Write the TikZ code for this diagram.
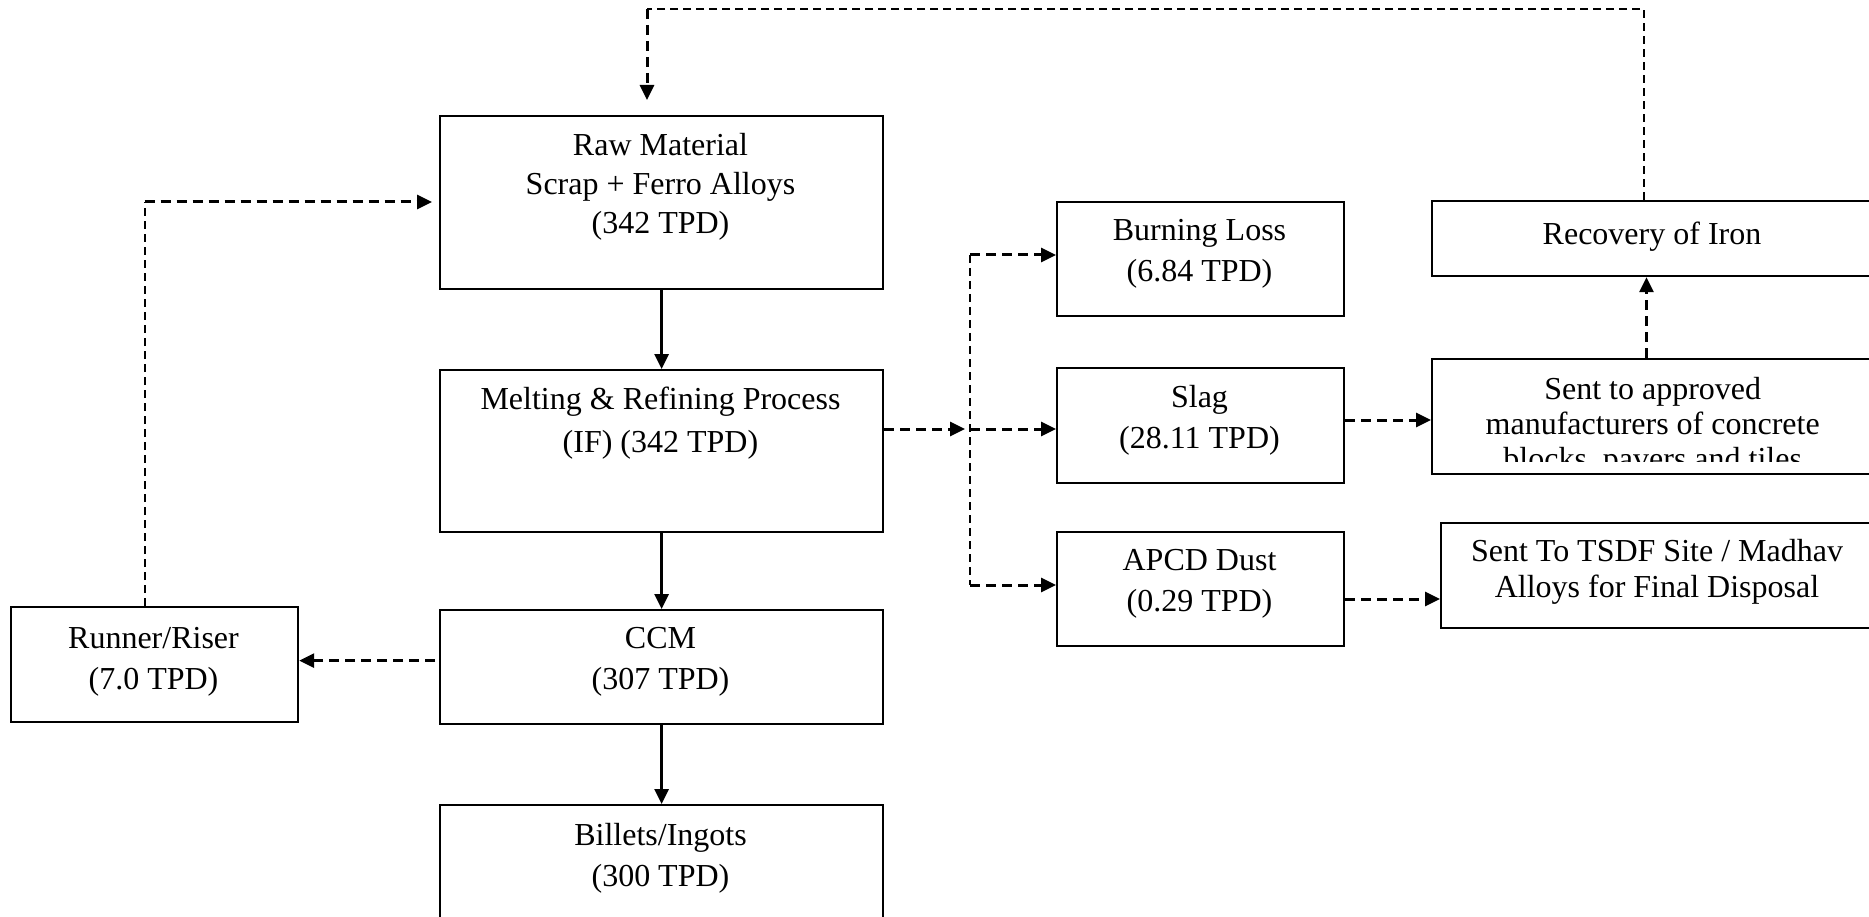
\documentclass[tikz,border=0pt]{standalone}
\usepackage{fontspec}
\setmainfont{Liberation Serif}
\usetikzlibrary{arrows.meta,calc}
\begin{document}
\begin{tikzpicture}[x=1pt,y=-1pt,
 box/.style={draw,line width=2.2pt,inner sep=0pt,anchor=north west},
 txt/.style={align=center,font=\fontsize{32}{41}\selectfont,inner sep=0pt},
 solidarrow/.style={line width=2.8pt,-{Triangle[length=15pt,width=14pt]}},
 dasharrow/.style={line width=3pt,dash pattern=on 10pt off 6pt,-{Triangle[length=15pt,width=14pt]}},
 thindash/.style={line width=1.6pt,dash pattern=on 8pt off 5pt}]
\useasboundingbox (0,0) rectangle (1869,917);
\fill[white] (0,0) rectangle (1869,917);
\clip (0,0) rectangle (1869,917);

% boxes
\node[box,minimum width=443pt,minimum height=173pt] (raw) at (439,115) {};
\node[box,minimum width=443pt,minimum height=162pt] (melt) at (439,369) {};
\node[box,minimum width=443pt,minimum height=114pt] (ccm) at (439,609) {};
\node[box,minimum width=443pt,minimum height=130pt] (bill) at (439,804) {};
\node[box,minimum width=287pt,minimum height=115pt] (run) at (10,606) {};
\node[box,minimum width=287pt,minimum height=114pt] (burn) at (1056,201) {};
\node[box,minimum width=287pt,minimum height=115pt] (slag) at (1056,367) {};
\node[box,minimum width=287pt,minimum height=114pt] (apcd) at (1056,531) {};
\node[box,minimum width=444pt,minimum height=75pt] (recov) at (1431,200) {};
\node[box,minimum width=444pt,minimum height=115pt] (sent) at (1431,358) {};
\node[box,minimum width=434pt,minimum height=105pt] (tsdf) at (1440,522) {};

% texts
\node[txt,font=\fontsize{32}{39}\selectfont] (rawt) at (660.5,187) {Raw Material\\Scrap + Ferro Alloys\\(342 TPD)};
\node[txt,font=\fontsize{32}{43}\selectfont] (meltt) at (660.5,423) {Melting \& Refining Process\\(IF) (342 TPD)};
\node[txt] (ccmt) at (660.5,662) {CCM\\(307 TPD)};
\node[txt] (billt) at (660.5,858) {Billets/Ingots\\(300 TPD)};
\node[txt] (runt) at (153.5,662) {Runner/Riser\\(7.0 TPD)};
\node[txt] (burnt) at (1199.5,254) {Burning Loss\\(6.84 TPD)};
\node[txt] (slagt) at (1199.5,420) {Slag\\(28.11 TPD)};
\node[txt] (apcdt) at (1199.5,584) {APCD Dust\\(0.29 TPD)};
\node[txt] (recovt) at (1652,237) {Recovery of Iron};
\node[txt,font=\fontsize{32}{36}\selectfont] (tsdft) at (1657,572) {Sent To TSDF Site / Madhav\\Alloys for Final Disposal};
\begin{scope}
\clip (1432,359) rectangle (1869,461);
\node[txt,font=\fontsize{32}{35}\selectfont] (sentt) at (1652.7,427) {Sent to approved\\manufacturers of concrete\\blocks, pavers and tiles};
\end{scope}

% coordinates
\coordinate (tl) at (647,9);
\coordinate (tr) at (1644,9);
\coordinate (rl) at (144.7,202);
\coordinate (ry) at (0,660.6);
\coordinate (bm) at (965,429);
\coordinate (b1) at (970,255);
\coordinate (bs) at (970,429);
\coordinate (b3) at (970,585);
\coordinate (s1) at (0,420);
\coordinate (s2) at (0,599);
\coordinate (rx) at (1646.5,0);

% solid connectors
\draw[solidarrow] (raw.south) -- (melt.north);
\draw[solidarrow] (melt.south) -- (ccm.north);
\draw[solidarrow] (ccm.south) -- (bill.north);

% dashed connectors
\draw[dasharrow,shorten <=4pt] (ccm.west |- ry) -- (run.east |- ry);
\draw[thindash] (run.north -| rl) -- (rl);
\draw[dasharrow,shorten >=7pt] (rl) -- (raw.west |- rl);
\draw[thindash] (recov.north -| tr) -- (tr) -- (tl);
\draw[dasharrow,shorten >=15pt] (tl) -- (raw.north -| tl);
\draw[dasharrow] (melt.east |- bm) -- (bm);
\draw[thindash] (b1) -- (b3);
\draw[dasharrow] (b1) -- (burn.west |- b1);
\draw[dasharrow] (bs) -- (slag.west |- bs);
\draw[dasharrow] (b3) -- (apcd.west |- b3);
\draw[dasharrow] (slag.east |- s1) -- (sent.west |- s1);
\draw[dasharrow] (apcd.east |- s2) -- (tsdf.west |- s2);
\draw[dasharrow] (sent.north -| rx) -- (recov.south -| rx);
\end{tikzpicture}
\end{document}
